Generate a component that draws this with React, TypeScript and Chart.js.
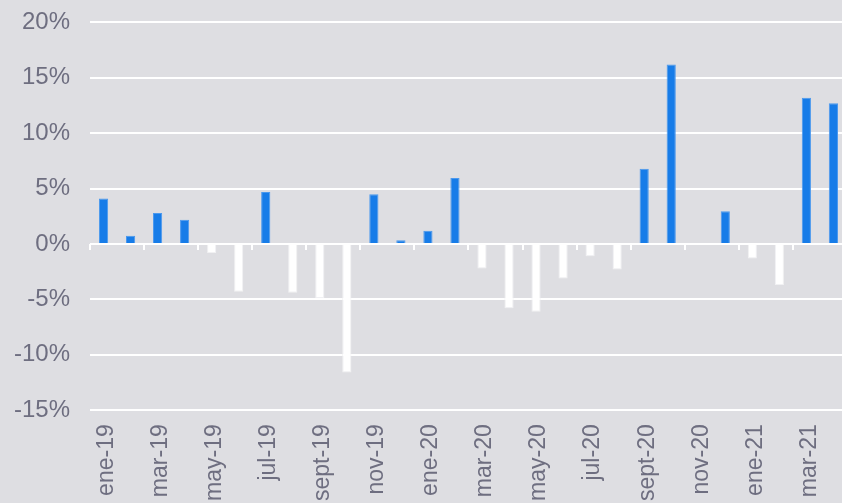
import React, { useEffect, useRef } from "react";
import { Chart, registerables } from "chart.js";

Chart.register(...registerables);

const categories: string[] = [
  "ene-19", "feb-19", "mar-19", "abr-19", "may-19", "jun-19", "jul-19", "ago-19",
  "sept-19", "oct-19", "nov-19", "dic-19", "ene-20", "feb-20", "mar-20", "abr-20",
  "may-20", "jun-20", "jul-20", "ago-20", "sept-20", "oct-20", "nov-20", "dic-20",
  "ene-21", "feb-21", "mar-21", "abr-21",
];

const values: number[] = [
  4.1, 0.75, 2.8, 2.2, -0.8, -4.3, 4.7, -4.4,
  -4.9, -11.6, 4.5, 0.35, 1.2, 5.95, -2.2, -5.8,
  -6.1, -3.1, -1.1, -2.3, 6.8, 16.2, 0, 2.95,
  -1.3, -3.7, 13.2, 12.7,
];

const yTicks: number[] = [-15, -10, -5, 0, 5, 10, 15, 20];

const BG = "#dedee2";
const BLUE = "#177ce8";
const TEXT = "#6e6e80";

const zeroTicksPlugin = {
  id: "zeroTicks",
  beforeDatasetsDraw(chart: any) {
    const x = chart.scales.x;
    const y = chart.scales.y;
    const ctx = chart.ctx;
    const w = x.getPixelForValue(1) - x.getPixelForValue(0);
    const y0 = y.getPixelForValue(0);
    ctx.save();
    ctx.strokeStyle = "#ffffff";
    ctx.lineWidth = 2;
    for (let i = 0; i < categories.length; i += 2) {
      const px = Math.round(x.getPixelForValue(i) - w / 2);
      ctx.beginPath();
      ctx.moveTo(px, y0);
      ctx.lineTo(px, y0 + 6);
      ctx.stroke();
    }
    ctx.restore();
  },
};

export default function App() {
  const ref = useRef<HTMLCanvasElement | null>(null);
  useEffect(() => {
    if (!ref.current) return;
    const chart = new Chart(ref.current, {
      type: "bar",
      data: {
        labels: categories,
        datasets: [
          {
            data: values,
            backgroundColor: values.map((v) => (v >= 0 ? BLUE : "#ffffff")),
            borderColor: values.map((v) => (v >= 0 ? "#4a98ee" : "#f1f1f3")),
            borderWidth: 1,
            barPercentage: 0.34,
            categoryPercentage: 1,
          },
        ],
      },
      options: {
        animation: false,
        responsive: true,
        maintainAspectRatio: false,
        layout: { padding: { left: 13, top: 7, right: 0, bottom: 0 } },
        plugins: { legend: { display: false }, tooltip: { enabled: false } },
        scales: {
          x: {
            grid: { display: false },
            border: { display: false },
            ticks: {
              autoSkip: false,
              maxRotation: 90,
              minRotation: 90,
              padding: 6,
              labelOffset: 3,
              color: TEXT,
              font: { family: "'Liberation Sans', Arial, sans-serif", size: 23 },
              callback: (_v: any, i: number) => (i % 2 === 0 ? categories[i] : ""),
            },
          },
          y: {
            min: yTicks[0],
            max: yTicks[yTicks.length - 1],
            afterBuildTicks: (scale: any) => {
              scale.ticks = yTicks.map((v) => ({ value: v }));
            },
            grid: { color: "#ffffff", lineWidth: 2, drawTicks: false },
            border: { display: false },
            ticks: {
              padding: 20,
              color: TEXT,
              font: { family: "'Liberation Sans', Arial, sans-serif", size: 24 },
              callback: (v: any) => v + "%",
            },
          },
        },
      },
      plugins: [zeroTicksPlugin],
    });
    return () => chart.destroy();
  }, []);

  return (
    <div
      style={{
        position: "fixed",
        left: 0,
        top: 0,
        width: 842,
        height: 503,
        overflow: "hidden",
        background: BG,
      }}
    >
      <div style={{ position: "absolute", left: -19, top: -12, width: 886, height: 519 }}>
        <canvas ref={ref} />
      </div>
    </div>
  );
}
